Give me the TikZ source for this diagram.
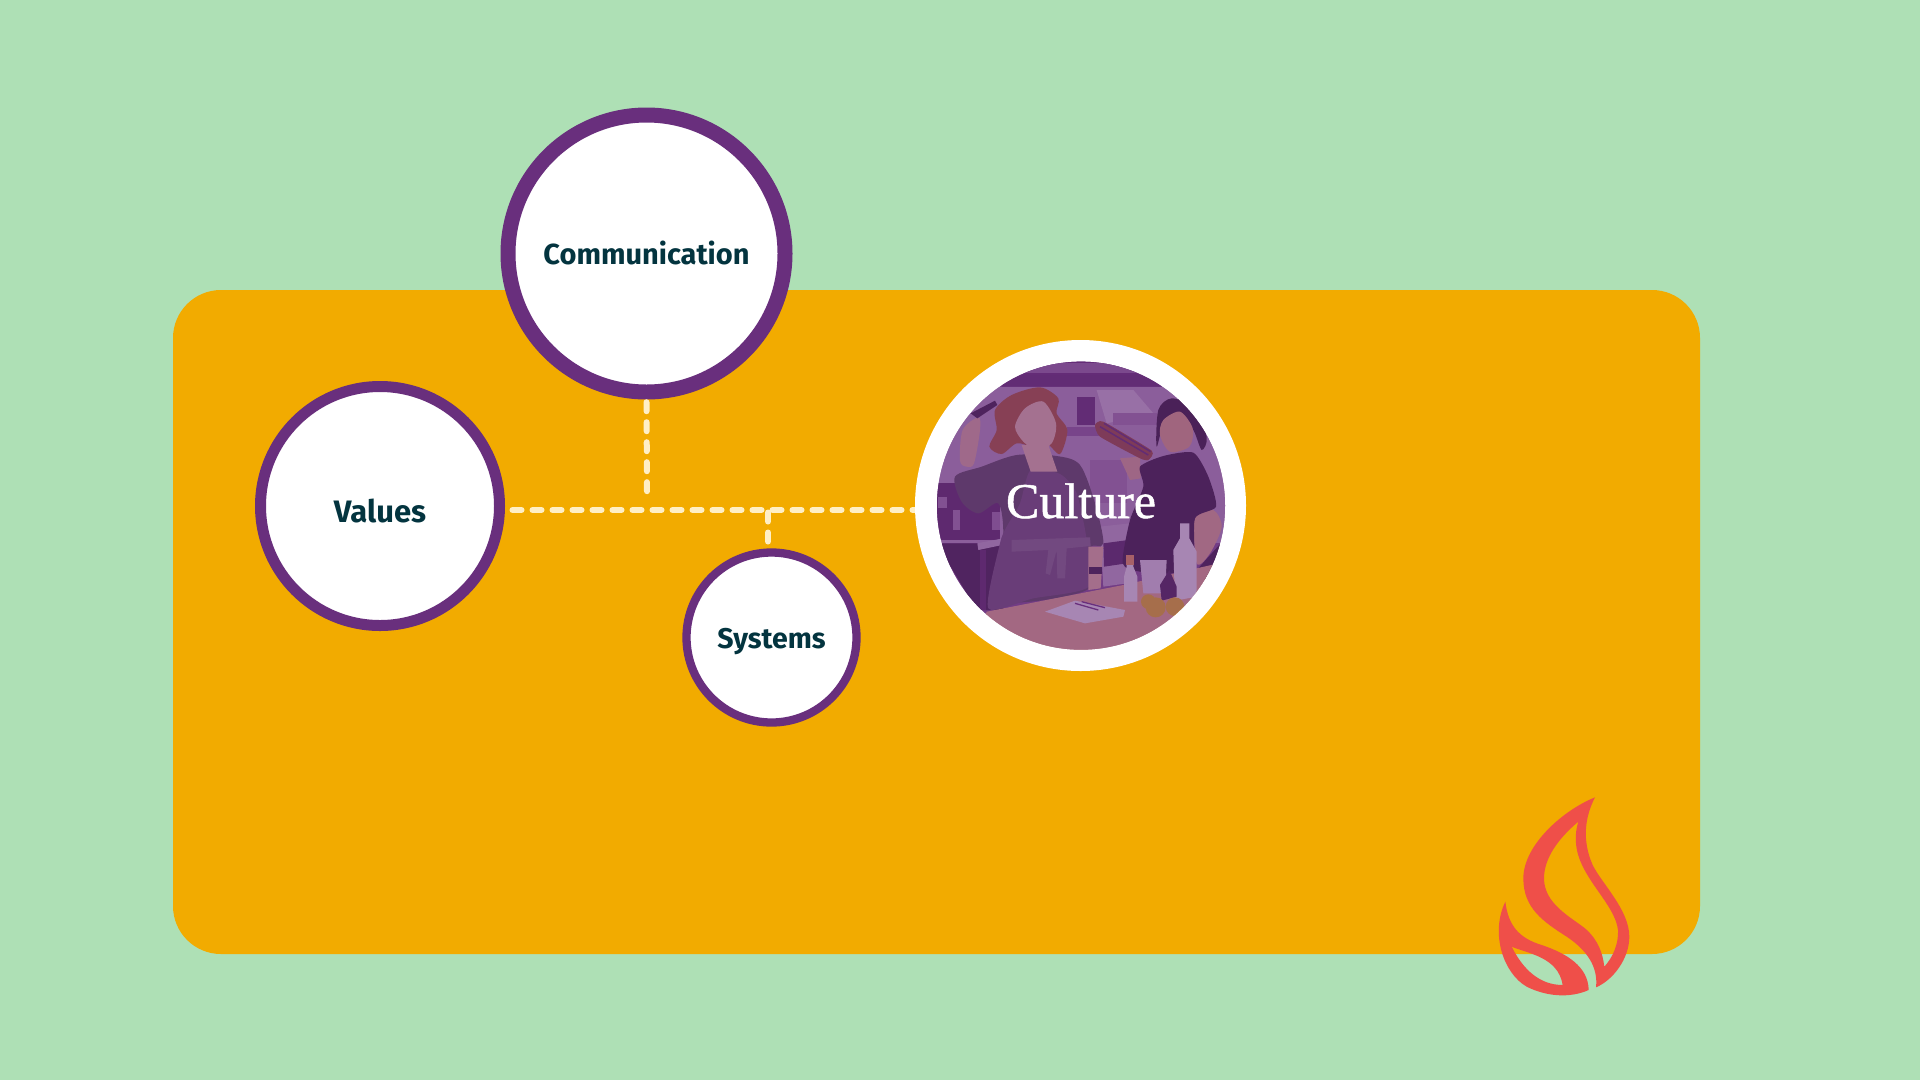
\documentclass[tikz,border=0pt]{standalone}
\usepackage{fontspec}
\setmainfont{Liberation Serif}
\newfontfamily\labelfont[BoldFont={Fira Sans Bold}]{Fira Sans}
\newfontfamily\culturefont[FakeBold=1]{Liberation Serif}
\definecolor{bgc}{HTML}{AEE0B5}
\definecolor{panelc}{HTML}{F2AB00}
\definecolor{ringc}{HTML}{692F7D}
\definecolor{inkc}{HTML}{03343F}
\definecolor{dashc}{HTML}{FFEFC6}
\definecolor{flamec}{HTML}{EF4F49}
\tikzset{
  topic/.style={circle,draw=ringc,fill=white,inner sep=0pt,text=inkc},
  linkline/.style={draw=dashc,line width=6pt,line cap=round,dash pattern=on 9pt off 11pt},
}
\newcommand{\toplabel}[3]{\raisebox{#1pt}[0pt][0pt]{\labelfont\bfseries\fontsize{#2}{#2}\selectfont #3}}
\begin{document}
\begin{tikzpicture}[x=1pt,y=-1pt]
\useasboundingbox (0,0) rectangle (1920,1080);
\fill[bgc] (0,0) rectangle (1920,1080);
\fill[panelc,rounded corners=48pt] (173,290) rectangle (1700,954);

\node[topic,line width=15pt,minimum size=277pt] (comm) at (646.5,253.5) {\toplabel{-10.6}{29}{Communication}};
\node[topic,line width=11pt,minimum size=239pt] (values) at (380,506) {\toplabel{-16.5}{31}{Values}};
\node[topic,line width=8.3pt,minimum size=170pt] (sys) at (771.5,637.5) {\toplabel{-11}{28.5}{Systems}};

\coordinate (stem) at (647,492.5);
\coordinate (hleft) at (512.5,510);
\coordinate (hright) at (915,510);
\coordinate (droptop) at (768,512.5);
\coordinate (dropend) at (768,542);
\draw[linkline,shorten <=2.7pt] (comm.south) -- (stem);
\draw[linkline] (hleft) -- (hright);
\draw[linkline] (droptop) -- (dropend);

% Culture circle
\node[circle,fill=white,minimum size=331pt,inner sep=0pt] (culture) at (1080.5,505.5) {};
\begin{scope}[shift={(900,330)},scale=1/3]
\clip (543,527) circle[radius=432];
\fill[ringc!85!white] (100,90) rectangle (1000,1000);
\fill[ringc!45!white] (100,170) rectangle (1000,640);
\fill[ringc!90!black] (100,90) rectangle (1000,135);
\fill[ringc!70!white] (330,98) rectangle (760,130);
\fill[ringc!85!black] (305,135) -- (790,135) -- (800,170) -- (305,170) -- cycle;
\fill[ringc!75!white] (500,290) rectangle (600,318);
\fill[ringc!85!black] (530,200) rectangle (585,285);
\fill[ringc!25!white] (590,180) -- (700,180) -- (760,250) -- (620,280) -- cycle;
\fill[ringc!60!white] (640,250) rectangle (770,285);
\fill[ringc!60!white] (570,390) rectangle (680,520);
\fill[ringc!75!black] (100,460) rectangle (300,630);
\fill[ringc!60!white] (160,540) rectangle (180,600);
\fill[ringc!60!white] (115,500) rectangle (140,535);
\fill[ringc!65!white] (275,545) rectangle (300,600);
\fill[black!55!ringc] (110,640) -- (320,640) -- (310,840) -- (230,840) -- cycle;
\fill[ringc!35!white] (232,640) -- (325,622) -- (330,640) -- (235,660) -- cycle;
\fill[ringc!75!black] (240,660) rectangle (258,840);
\fill[ringc!35!white] (600,590) -- (690,580) -- (680,760) -- (610,770) -- cycle;
\fill[ringc!70!black] (610,640) -- (685,630) -- (680,700) -- (612,710) -- cycle;
\fill[black!60!ringc] (890,720) -- (980,620) -- (1000,700) -- (920,760) -- cycle;

% left woman
\fill[ringc!20!gray!65!black] plot[smooth cycle] coordinates {(165,440) (245,410) (350,375) (470,378) (540,405) (585,520) (610,640) (570,655) (560,780) (290,810) (310,620) (295,520) (235,550) (185,515)};
\fill[ringc!45!gray!90!black] plot[smooth cycle,tension=.4] coordinates {(392,420) (480,432) (530,490) (560,630) (566,770) (400,805) (265,835) (300,640) (320,590) (360,520)};
\fill[ringc!30!gray!95!white] (335,630) -- (570,622) -- (572,648) -- (500,655) -- (495,745) -- (472,745) -- (470,660) -- (450,735) -- (437,730) -- (445,660) -- (335,665) -- cycle;
\fill[ringc!30!orange!45!white] plot[smooth cycle] coordinates {(180,392) (188,300) (235,262) (240,300) (222,400) (200,410)};
\fill[black!60!ringc] (212,250) -- (285,212) -- (292,225) -- (232,265) -- cycle;
\fill[ringc!30!orange!85!black] plot[smooth cycle] coordinates {(268,350) (290,300) (285,240) (335,195) (420,172) (475,205) (470,250) (502,300) (480,372) (440,340) (400,350) (350,340) (305,372)};
\fill[ringc!15!orange!35!white] plot[smooth cycle] coordinates {(345,290) (375,235) (430,215) (468,280) (455,340) (410,360) (370,335)};
\fill[ringc!15!orange!35!white] (365,345) -- (445,345) -- (472,425) -- (392,425) -- cycle;
\fill[ringc!15!orange!40!white] (565,650) -- (610,650) -- (602,775) -- (565,780) -- cycle;
\fill[black!60!ringc] (568,712) rectangle (605,732);

% right woman
\fill[ringc!30!orange!50!white] (660,385) -- (720,380) -- (722,445) -- (690,450) -- cycle;
\fill[ringc!20!orange!50!white] plot[smooth cycle] coordinates {(885,555) (940,540) (965,590) (930,670) (890,700)};
\fill[black!65!ringc] plot[smooth cycle,tension=.4] coordinates {(720,410) (790,378) (880,368) (925,440) (948,530) (885,565) (880,700) (820,730) (720,725) (668,700) (690,570) (730,470)};
\fill[black!70!ringc] plot[smooth cycle] coordinates {(770,350) (775,240) (815,205) (875,232) (920,320) (905,360) (880,300) (840,255) (795,270)};
\fill[ringc!20!orange!55!white] plot[smooth cycle] coordinates {(780,315) (790,270) (840,245) (878,295) (868,350) (810,365)};
\fill[ringc!40!orange!80!black] plot[smooth cycle,tension=.3] coordinates {(585,285) (610,275) (755,362) (745,390) (720,385) (600,320)};
\draw[ringc!85!black,line width=1.5pt] (600,290) -- (745,375) (612,280) -- (752,365);

% table and props
\fill[ringc!15!orange!50!white] (260,845) -- (670,765) -- (1000,690) -- (1000,1000) -- (200,1000) -- cycle;
\fill[white] (435,845) -- (525,812) -- (675,840) -- (670,860) -- (555,880) -- cycle;
\draw[ringc,line width=1.3pt] (525,820) -- (595,840) (545,815) -- (615,833);
\fill[white] (840,580) -- (868,580) -- (868,625) -- (890,665) -- (890,800) -- (825,812) -- (820,660) -- (840,625) -- cycle;
\fill[white] (680,675) -- (700,675) -- (700,710) -- (712,740) -- (712,815) -- (672,815) -- (672,740) -- (680,710) -- cycle;
\fill[orange!70!white] (678,675) rectangle (702,705);
\fill[ringc!10!white] (720,690) -- (800,690) -- (795,790) -- (730,790) -- cycle;
\fill[black!45!ringc] (780,765) -- (808,720) -- (830,770) -- (830,800) -- (785,812) -- cycle;
\fill[yellow!60!orange] (745,815) circle[radius=22];
\fill[yellow!60!orange] (767,832) circle[radius=30];
\fill[yellow!60!orange] (825,830) circle[radius=28];
% purple wash over the whole photograph
\fill[ringc,opacity=.58] (100,90) rectangle (1000,1000);
\end{scope}
\node[text=white,font=\culturefont\fontsize{50}{54}\selectfont,anchor=base] (culturelabel) at (1081,518) {Culture};

% flame
\begin{scope}[shift={(1470,780)},scale=1/3]
\fill[flamec,even odd rule]
  (375,52) .. controls (345,110) and (335,180) .. (368,255)
  .. controls (395,310) and (478,390) .. (478,470)
  .. controls (478,535) and (430,600) .. (378,622)
  .. controls (385,560) and (350,510) .. (290,470)
  .. controls (220,425) and (160,385) .. (160,295)
  .. controls (160,195) and (280,90) .. (375,52) -- cycle
  (325,125) .. controls (265,175) and (222,235) .. (222,295)
  .. controls (222,370) and (300,410) .. (345,445)
  .. controls (385,480) and (398,520) .. (403,560)
  .. controls (430,530) and (446,490) .. (444,450)
  .. controls (435,370) and (325,290) .. (318,190)
  .. controls (316,160) and (320,140) .. (325,125) -- cycle;
\fill[flamec,even odd rule]
  (106,365) .. controls (115,440) and (150,475) .. (215,495)
  .. controls (290,520) and (355,560) .. (356,630)
  .. controls (300,655) and (230,650) .. (170,620)
  .. controls (100,580) and (60,460) .. (106,365) -- cycle
  (125,500) .. controls (170,520) and (265,530) .. (278,615)
  .. controls (210,615) and (160,570) .. (125,500) -- cycle;
\end{scope}
\end{tikzpicture}
\end{document}
